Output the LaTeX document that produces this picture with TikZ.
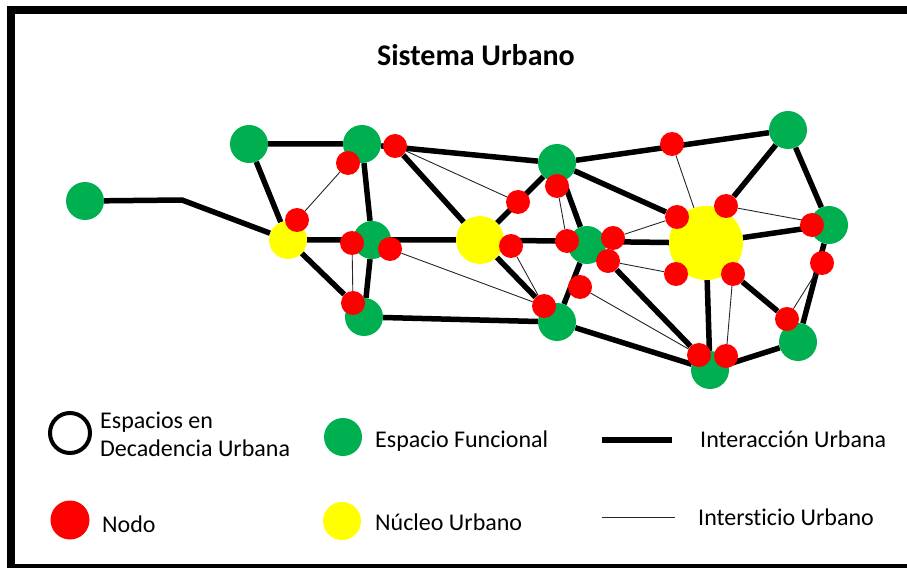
\documentclass[tikz,border=0pt]{standalone}
\usepackage{fontspec}
\setmainfont{Carlito}[Ligatures=NoCommon]
\usepackage{tikz}
\usetikzlibrary{backgrounds}
\definecolor{verde}{HTML}{00B050}
\definecolor{rojo}{HTML}{FF0000}
\definecolor{amarillo}{HTML}{FFFF00}
\tikzset{
  funcional/.style={circle,fill=verde,minimum size=38pt,inner sep=0pt},
  nucleo/.style={circle,fill=amarillo,minimum size=#1,inner sep=0pt},
  nodo/.style={circle,fill=rojo,minimum size=24pt,inner sep=0pt},
  decadencia/.style={circle,draw=black,line width=4pt,minimum size=40pt,inner sep=0pt},
  interaccion/.style={line width=5.5pt,line join=round},
  intersticio/.style={line width=0.9pt,black!85},
  leyenda/.style={anchor=base west,align=left,inner sep=0pt,font=\fontsize{24}{28}\selectfont}
}

\begin{document}
\begin{tikzpicture}[x=1pt,y=-1pt]
\useasboundingbox (0,0) rectangle (907,569);
\draw[line width=8pt] (907,10) -- (11,10) -- (11,566);
\draw[line width=4pt] (7,566) -- (907,566);

\node[font=\bfseries\fontsize{30}{35}\selectfont,anchor=base] (titulo) at (476,66) {Sistema Urbano};

\node[funcional] (fun1) at (85,201) {};
\node[funcional] (fun2) at (249,144) {};
\node[funcional] (fun3) at (362,144) {};
\node[funcional] (fun4) at (372,240) {};
\node[funcional] (fun5) at (364,317) {};
\node[funcional] (fun6) at (557,163) {};
\node[funcional] (fun7) at (587,245) {};
\node[funcional] (fun8) at (557,322) {};
\node[funcional] (fun9) at (788,130) {};
\node[funcional] (fun10) at (829,225) {};
\node[funcional] (fun11) at (798,342) {};
\node[funcional] (fun12) at (710,370) {};

\node[nucleo=38pt] (nuc1) at (288,240) {};
\node[nucleo=48pt] (nuc2) at (480,240) {};
\node[nucleo=74pt] (nuc3) at (706,243) {};

\node[nodo] (nodo1) at (395,146) {};
\node[nodo] (nodo2) at (348,163) {};
\node[nodo] (nodo3) at (297,220) {};
\node[nodo] (nodo4) at (352,243) {};
\node[nodo] (nodo5) at (390,249) {};
\node[nodo] (nodo6) at (353,303) {};
\node[nodo] (nodo7) at (511,246) {};
\node[nodo] (nodo8) at (518,202) {};
\node[nodo] (nodo9) at (557,186) {};
\node[nodo] (nodo10) at (567,241) {};
\node[nodo] (nodo11) at (613,238) {};
\node[nodo] (nodo12) at (608,261) {};
\node[nodo] (nodo13) at (580,287) {};
\node[nodo] (nodo14) at (544,306) {};
\node[nodo] (nodo15) at (672,144) {};
\node[nodo] (nodo16) at (677,217) {};
\node[nodo] (nodo17) at (726,206) {};
\node[nodo] (nodo18) at (676,274) {};
\node[nodo] (nodo19) at (733,274) {};
\node[nodo] (nodo20) at (812,225) {};
\node[nodo] (nodo21) at (822,263) {};
\node[nodo] (nodo22) at (787,319) {};
\node[nodo] (nodo23) at (699,355) {};
\node[nodo] (nodo24) at (726,356) {};

\coordinate (codo) at (182,200);

\begin{pgfonlayer}{background}
\draw[interaccion] (fun1) -- (codo) -- (nuc1);
\draw[interaccion] (fun2) -- (fun3) (fun2) -- (nuc1) (fun3) -- (fun4) (fun3) -- (fun6);
\draw[interaccion] (nodo1) -- (nuc2) (nuc1) -- (fun4) (fun4) -- (nuc2) (nuc1) -- (nodo6);
\draw[interaccion] (fun4) -- (fun5) (fun5) -- (fun8) (nuc2) -- (nodo14) (nuc2) -- (fun6);
\draw[interaccion] (nuc2) -- (nuc3) (fun6) -- (fun7) (fun6) -- (nodo16) (fun6) -- (fun9);
\draw[interaccion] (fun7) -- (fun8) (nodo12) -- (nodo23) (fun8) -- (fun12) (nuc3) -- (fun12);
\draw[interaccion] (nodo19) -- (nodo22) (fun12) -- (fun11) (fun11) -- (fun10) (nuc3) -- (fun10);
\draw[interaccion] (nodo17) -- (fun9) (fun9) -- (fun10);

\draw[intersticio] (nodo1) -- (nodo8) (nodo2) -- (nodo3) (nodo4) -- (nodo6) (nodo5) -- (nodo14);
\draw[intersticio] (nodo7) -- (nodo14) (nodo9) -- (nodo10) (nodo15) -- (nuc3) (nodo13) -- (nodo23);
\draw[intersticio] (nodo11) -- (nodo16) (nodo12) -- (nodo18) (nodo19) -- (nodo24) (nodo22) -- (nodo21);
\draw[intersticio] (nodo17) -- (fun10);
\end{pgfonlayer}

\node[decadencia] (leyDecadencia) at (70,433) {};
\node[leyenda] (txtDecadencia) at (100,456) {Espacios en\\Decadencia Urbana};
\node[funcional] (leyFuncional) at (343,437) {};
\node[leyenda] (txtFuncional) at (375,447) {Espacio Funcional};
\coordinate (interA) at (602,440);
\coordinate (interB) at (672,440);
\draw[interaccion] (interA) -- (interB);
\node[leyenda] (txtInteraccion) at (700,447) {Interacción Urbana};

\node[nodo,minimum size=39pt] (leyNodo) at (70,520) {};
\node[leyenda] (txtNodo) at (102,532) {Nodo};
\node[nucleo=38pt] (leyNucleo) at (342,521) {};
\node[leyenda] (txtNucleo) at (375,530) {Núcleo Urbano};
\coordinate (intersA) at (602,517);
\coordinate (intersB) at (675,517);
\draw[intersticio] (intersA) -- (intersB);
\node[leyenda] (txtIntersticio) at (698,525) {Intersticio Urbano};
\end{tikzpicture}
\end{document}
